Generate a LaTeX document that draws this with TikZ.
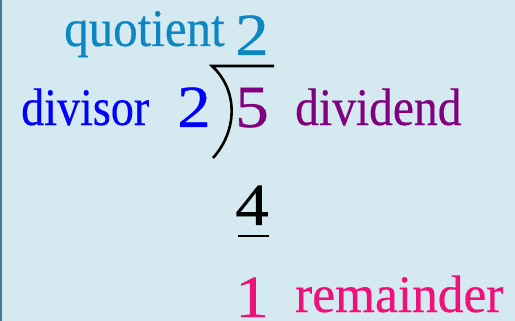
\documentclass[tikz,border=0pt]{standalone}
\usepackage{fontspec}
\setmainfont{Liberation Serif}
\newfontfamily\labfont[FakeBold=0.4]{Liberation Serif}
\definecolor{bg}{HTML}{D5EAF0}
\definecolor{edge}{HTML}{3F7F92}
\definecolor{qcol}{HTML}{0D86C4}
\definecolor{dcol}{HTML}{0000FF}
\definecolor{pcol}{HTML}{800080}
\definecolor{rcol}{HTML}{F0107A}
\tikzset{
  lbl/.style={inner sep=0pt, anchor=base west, font=\labfont\fontsize{48}{52}\selectfont},
  dig/.style={inner sep=0pt, anchor=base west, font=\labfont\fontsize{56}{60}\selectfont},
}
\begin{document}
\begin{tikzpicture}[x=1pt,y=-1pt]
\fill[bg] (0,0) rectangle (515,321);
\useasboundingbox (0,0) rectangle (515,321);
\fill[edge] (0,0) rectangle (2,321);
\node[lbl,text=qcol] (ql) at (64,46) {\scalebox{1.02}[1.1]{quotient}};
\node[dig,text=qcol] (q) at (235,55) {\scalebox{1.2}[1.07]{2}};
\node[lbl,text=dcol] (dl) at (21,125) {\scalebox{0.96}[1.1]{divisor}};
\node[dig,text=dcol] (d) at (177,127) {\scalebox{1.2}[1.07]{2}};
\node[dig,text=pcol] (five) at (235,127) {\scalebox{1.2}[1.07]{5}};
\node[lbl,text=pcol] (dd) at (295,125) {\scalebox{0.99}[1.1]{dividend}};
\node[dig,text=black] (four) at (235,225) {\scalebox{1.2}[1.07]{4}};
\node[dig,text=rcol] (one) at (235,317) {\scalebox{1.2}[1.07]{1}};
\node[lbl,text=rcol] (rl) at (295,312) {\scalebox{1.07}[1.1]{remainder}};
\coordinate (vs) at (212,66);
\coordinate (ve) at (274,66);
\coordinate (be) at (213,158);
\draw[line width=2.6pt] (ve) -- (vs) .. controls (238,90) and (238,130) .. (be);
\coordinate (us) at (238,236);
\coordinate (ue) at (269,236);
\draw[line width=2pt] (us) -- (ue);
\end{tikzpicture}
\end{document}
